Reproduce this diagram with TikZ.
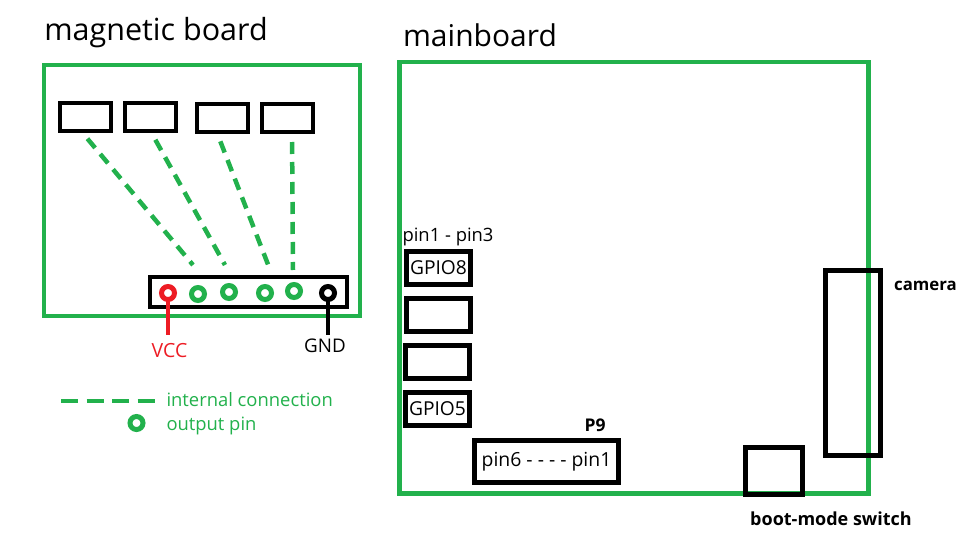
\documentclass[tikz,border=0pt]{standalone}
\usepackage{fontspec}
\setmainfont{Open Sans}
\usetikzlibrary{calc}
\definecolor{boardgreen}{HTML}{22B14C}
\definecolor{pinred}{HTML}{ED1C24}
\newcommand{\fsize}[1]{\fontsize{#1}{#1}\selectfont}
\tikzset{
	board/.style = {draw = boardgreen, line width = 4.5pt},
	part/.style = {draw, line width = 4.7pt, inner sep = 0pt, outer sep = 0pt, minimum width = #1},
	part/.default = 51pt,
	pinhole/.style = {draw = #1, circle, line width = 5pt, inner sep = 0pt, outer sep = 0pt, minimum size = 13pt},
	lead/.style = {line width = 4.3pt},
	wire/.style = {draw = boardgreen, line width = 4.5pt, dash pattern = on 12pt off 8pt},
	label/.style = {inner sep = 0pt, outer sep = 0pt, font = \fsize{18.4}}
}
\begin{document}
\begin{tikzpicture}[x = 1pt, y = -1pt]
	\useasboundingbox (0,0) rectangle (978,551);

	\node [inner sep = 0pt, font = \fsize{30.5}] (magtitle) at (156,33) {magnetic board};
	\node [inner sep = 0pt, font = \fsize{30}] (maintitle) at (480,35) {mainboard};

	\draw [board] (44,65) rectangle (360,316);
	\draw [board] (399.5,62) rectangle (868.5,493.5);

	% magnetic board
	\foreach \name/\x/\y in {mag1/85.5/117, mag2/150.5/117, mag3/222.5/118, mag4/287.5/118}{
		\node [part, minimum height = 28pt] (\name) at (\x,\y) {};
	}
	\node [part = 197pt, minimum height = 30pt] (header) at (248.5,292) {};

	\node [pinhole = pinred] (vcc) at (168,293) {};
	\node [pinhole = boardgreen] (out1) at (198,294) {};
	\node [pinhole = boardgreen] (out2) at (229,292) {};
	\node [pinhole = boardgreen] (out3) at (265,293) {};
	\node [pinhole = boardgreen] (out4) at (294,291) {};
	\node [pinhole = black] (gnd) at (328,293) {};

	\coordinate (end1) at ($(out1) + (-5,-29)$);
	\coordinate (end2) at ($(out2) + (-4,-27)$);
	\coordinate (end3) at ($(out3) + (4,-26)$);
	\coordinate (end4) at ($(out4) + (-1,-21)$);
	\foreach \i/\dx in {1/-4.5, 2/0, 3/-5.8, 4/4.5}{
		\draw [wire, shorten < = 10pt] ($(mag\i.south) + (\dx,0)$) -- (end\i);
	}

	\node [label, text = pinred, font = \fsize{19.5}] (vcclabel) at (169.5,351) {VCC};
	\node [label, font = \fsize{18.8}] (gndlabel) at (325,346) {GND};
	\draw [lead, pinred] (vcc.south) -- ($(vcc.south) + (0,35)$);
	\draw [lead] (gnd.south) -- ($(gnd.south) + (0,35)$);

	% legend
	\node [label, text = boardgreen, anchor = west] (wirelabel) at (166.5,400) {internal connection};
	\node [label, text = boardgreen, anchor = west] (pinlabel) at (166.5,426) {output pin};
	\coordinate (wirestart) at (61,401);
	\draw [wire, dash pattern = on 17pt off 8.5pt] (wirestart) -- ++(95,0);
	\node [pinhole = boardgreen] (pinsample) at (136.5,423) {};

	% mainboard
	\node [label] (pinrange) at (448,237) {pin1 - pin3};
	\node [part = 64pt, minimum height = 33pt, font = \fsize{19.2}] (gpio8) at (438.5,268) {GPIO8};
	\node [part = 64pt, minimum height = 33pt] (gpio7) at (438.5,315) {};
	\node [part = 64pt, minimum height = 33pt] (gpio6) at (437.5,362) {};
	\node [part = 64pt, minimum height = 33pt, font = \fsize{19.2}] (gpio5) at (437.5,409) {GPIO5};

	\node [part = 144pt, minimum height = 42pt, font = \fsize{19.4}] (p9) at (546.5,461.5) {pin6 - - - - pin1};
	\node [label, font = \fsize{17.5}\bfseries] (p9label) at (595,425.5) {P9};

	\node [part = 55pt, minimum height = 185pt, line width = 4.3pt] (camera) at (853,363) {};
	\node [label, font = \fsize{16.8}\bfseries] (cameralabel) at (925.5,286) {camera};
	\node [part = 57pt, minimum height = 47pt, line width = 4.3pt] (switch) at (774,471) {};
	\node [label, font = \fsize{18}\bfseries] (switchlabel) at (831,519) {boot-mode switch};
\end{tikzpicture}
\end{document}
